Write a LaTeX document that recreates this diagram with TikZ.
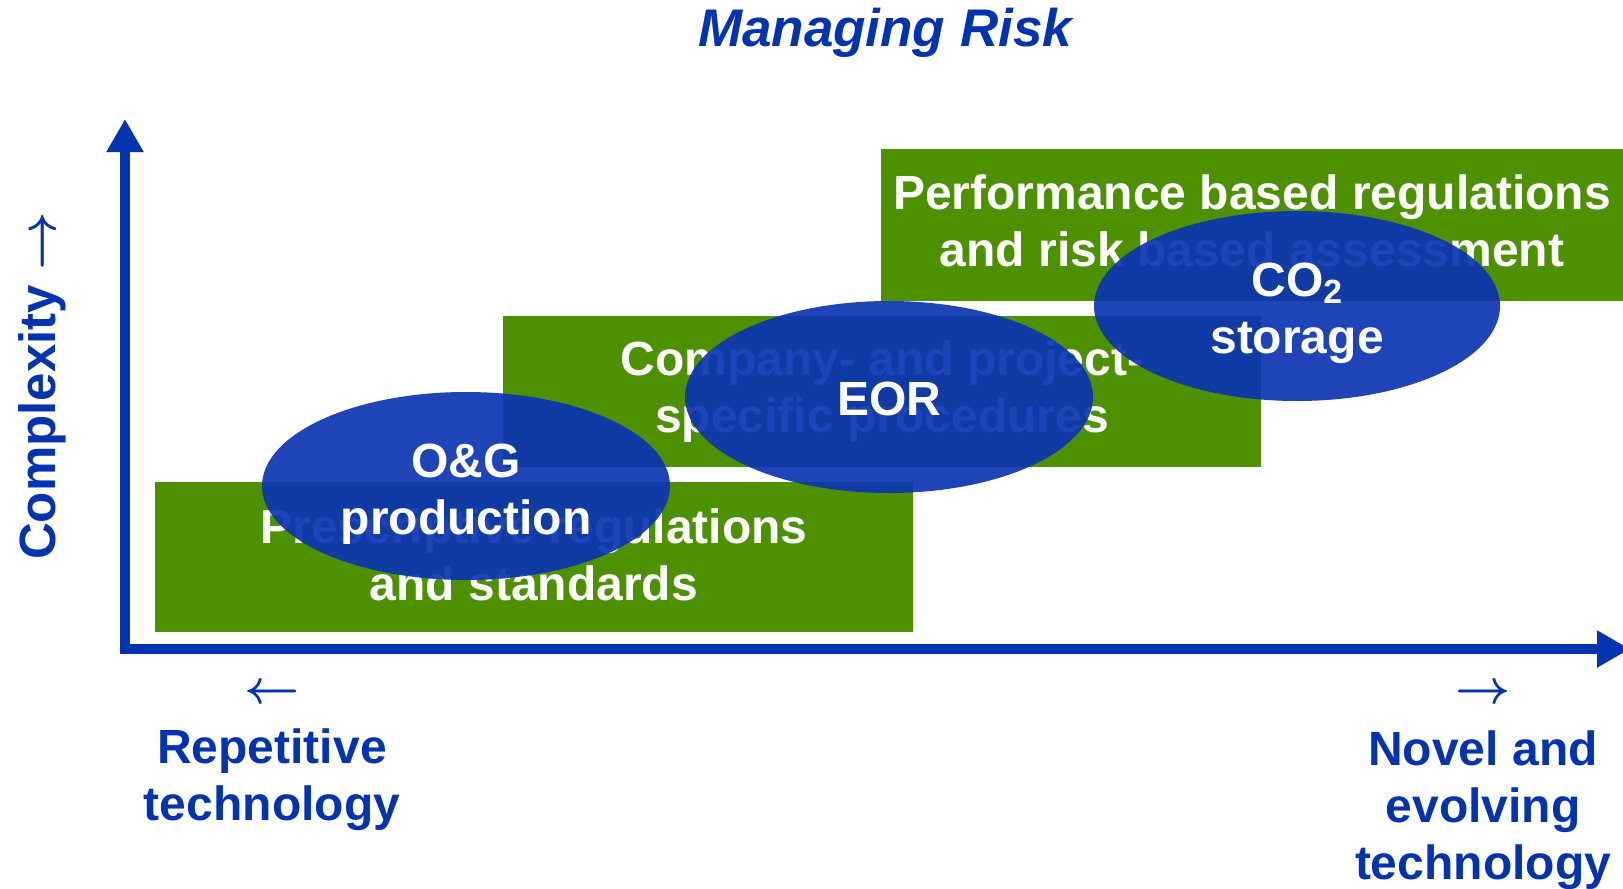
\RequirePackage{fix-cm}
\documentclass[tikz,border=0pt]{standalone}
\usepackage{fontspec}
\setmainfont{Liberation Sans}
\usetikzlibrary{arrows.meta}
\definecolor{axblue}{RGB}{4,51,176}
\definecolor{elblue}{RGB}{12,52,178}
\definecolor{boxgreen}{RGB}{78,145,0}
\begin{document}
\begin{tikzpicture}[x=1pt,y=-1pt,
  bigtxt/.style={font=\fontsize{48}{57}\selectfont\bfseries, inner sep=0pt, align=center},
  arrtxt/.style={font={\fontsize{48}{57}\selectfont\bfseries\boldmath}, inner sep=0pt, align=center},
  greenbox/.style={fill=boxgreen, draw=none},
  riskell/.style={fill=elblue, fill opacity=0.92, draw=none},
  axis/.style={draw=axblue, line width=10pt, miter limit=10}
]
\useasboundingbox (0,0) rectangle (1623,889);
% title
\node[font=\fontsize{53}{60}\selectfont\bfseries\itshape, text=axblue, inner sep=0pt] (title) at (885,33) {Managing Risk};
% green boxes
\path[greenbox] (155,482) rectangle (913,632);
\node[bigtxt, text=white] (b1) at (534,555) {Prescriptive regulations\\and standards};
\path[greenbox] (503,316) rectangle (1261,467);
\node[bigtxt, text=white] (b2) at (882,392) {Company- and project-\\specific procedures};
\path[greenbox] (881,149) rectangle (1623,301);
\node[bigtxt, text=white] (b3) at (1252,221) {Performance based regulations\\and risk based assessment};
% ellipses
\path[riskell] (466,486) ellipse [x radius=204, y radius=94];
\path[riskell] (889,397) ellipse [x radius=204, y radius=96];
\path[riskell] (1297,306) ellipse [x radius=203, y radius=95];
\node[bigtxt, text=white] (e1) at (466,494) {O\&G\\production};
\node[bigtxt, text=white] (e2) at (889,399) {EOR};
\node[bigtxt, text=white] (e3) at (1297,313) {CO\textsubscript{2}\\storage};
% axes
\coordinate (ytip) at (125,119);
\coordinate (corner) at (125,649);
\coordinate (xtip) at (1630,649);
\draw[axis, {Triangle[width=35pt,length=33pt]}-{Triangle[width=35pt,length=33pt]}] (ytip) -- (corner) -- (xtip);
% axis labels
\node[arrtxt, font={\fontsize{51}{60}\selectfont\bfseries\boldmath}, text=axblue, rotate=90] (cx) at (42,386) {Complexity $\rightarrow$};
\node[arrtxt, text=axblue] (la) at (272,694) {$\leftarrow$};
\node[arrtxt, text=axblue] (ra) at (1483,694) {$\rightarrow$};
\node[bigtxt, text=axblue] (rep) at (272,780) {Repetitive\\technology};
\node[bigtxt, text=axblue] (nov) at (1483,810) {Novel and\\evolving\\technology};
\end{tikzpicture}
\end{document}
